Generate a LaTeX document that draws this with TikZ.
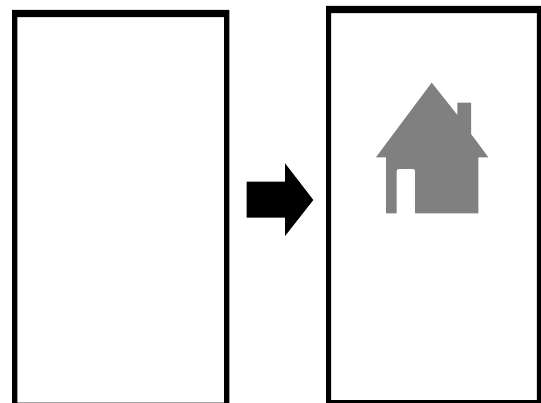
\documentclass[tikz,border=0pt]{standalone}
\definecolor{housegray}{HTML}{808080}
\tikzset{
  framefill/.style={fill=black,draw=none,even odd rule},
  housefill/.style={fill=housegray,draw=none,even odd rule},
  arrowfill/.style={fill=black,draw=none}
}
\begin{document}
\begin{tikzpicture}[x=1pt,y=-1pt]
\useasboundingbox (0,0) rectangle (541,403);
\clip (0,0) rectangle (541,403);
\fill[white] (0,0) rectangle (541,403);
% left frame
\path[framefill] (12.2,10) rectangle (229.3,410) (17.3,17.2) rectangle (224.2,402.7);
% right frame
\path[framefill] (326.2,6) rectangle (541.5,410) (331,13.2) rectangle (536.8,400);
% arrow
\path[arrowfill] (246.7,181.7) -- (285,181.7) -- (285,163.3) -- (313.3,200) -- (285,236) -- (285,217.7) -- (246.7,217.7) -- cycle;
% house
\path[housefill] (431.7,82.7) -- (457.3,115) -- (457.3,102.7) -- (471,102.7) -- (471,134) -- (488.3,157.3) -- (478.3,157.3) -- (478.3,213.3) -- (415,213.3) -- (415,171) .. controls (415,169.6) and (414.4,169) .. (413,169) -- (398.7,169) .. controls (397.3,169) and (396.7,169.6) .. (396.7,171) -- (396.7,213.3) -- (386,213.3) -- (386,157.3) -- (376,157.3) -- cycle;
\end{tikzpicture}
\end{document}
